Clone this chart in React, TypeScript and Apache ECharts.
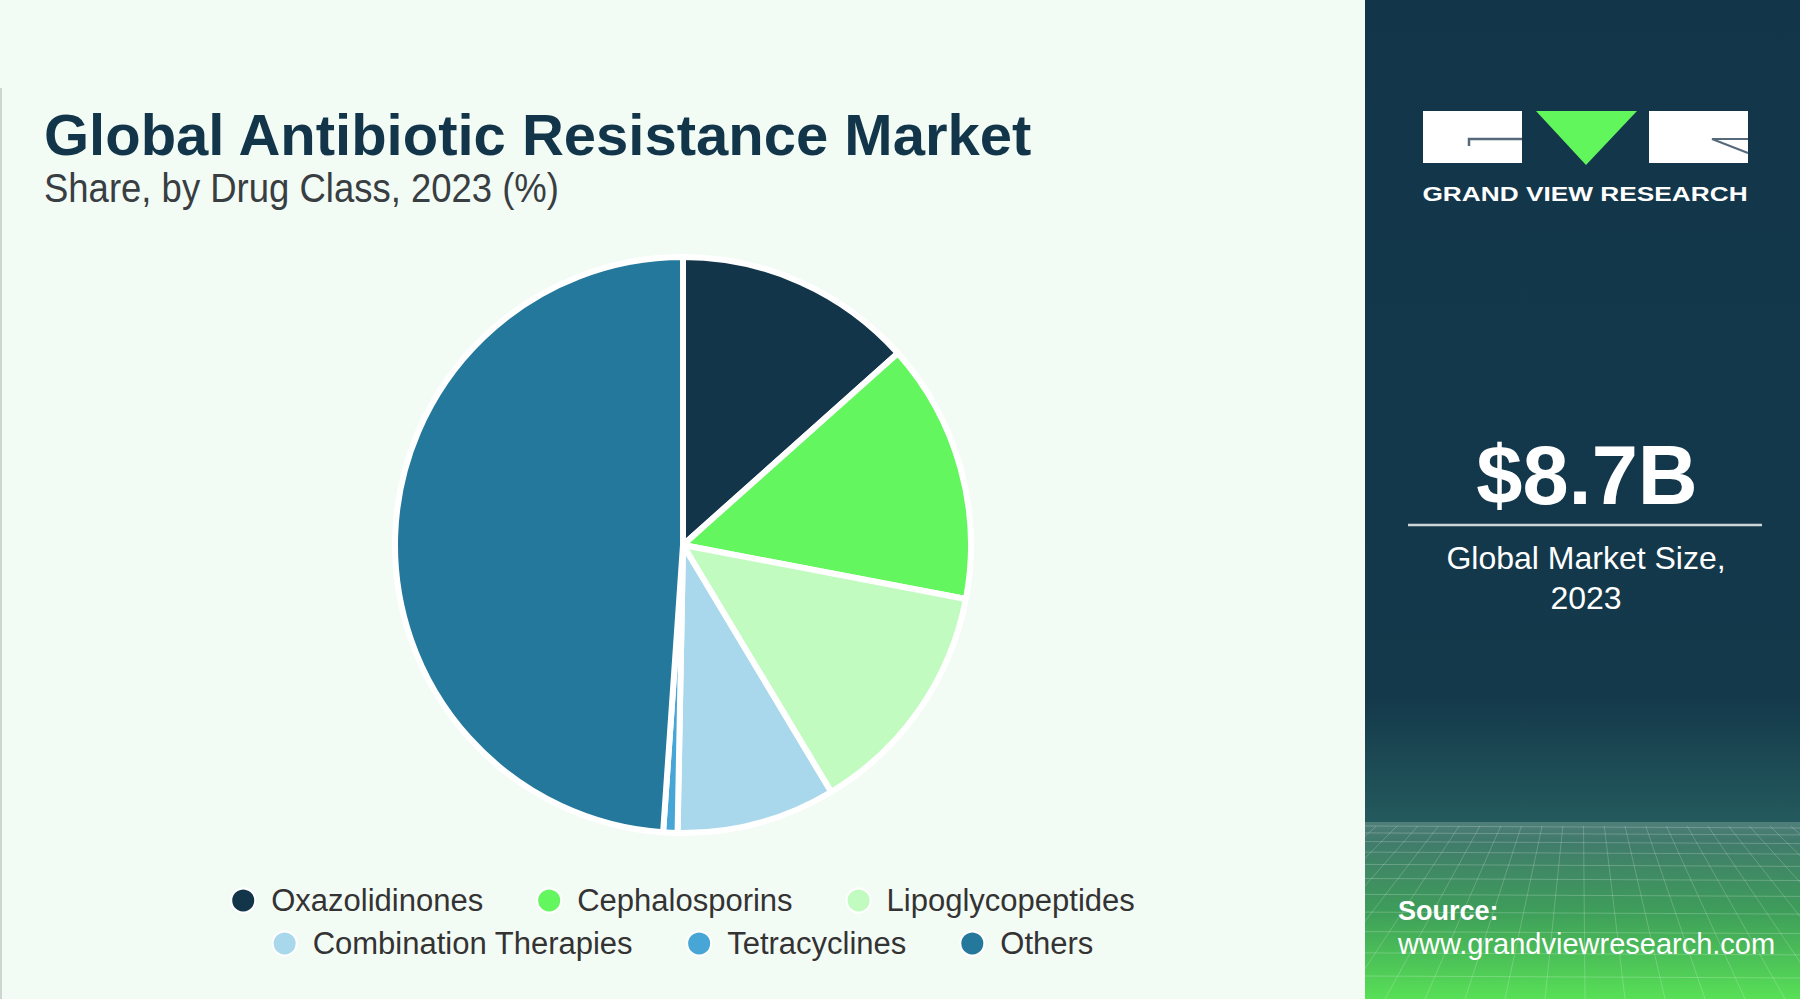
import React, { useEffect, useRef } from 'react';
import * as echarts from 'echarts';

// ---- Data ----
const categories = [
  'Oxazolidinones',
  'Cephalosporins',
  'Lipoglycopeptides',
  'Combination Therapies',
  'Tetracyclines',
  'Others',
];
const shares = [13.4, 14.6, 13.4, 8.9, 0.8, 48.9];
const sliceColors = ['#12354a', '#63f65e', '#c1fbc0', '#a9d8ec', '#47a6d6', '#23789c'];
const legendRow1 = categories.slice(0, 3);
const legendRow2 = categories.slice(3);

const titleText = 'Global Antibiotic Resistance Market';
const subtitleText = 'Share, by Drug Class, 2023 (%)';
const marketSize = '$8.7B';
const marketLabel1 = 'Global Market Size,';
const marketLabel2 = '2023';
const brandText = 'GRAND VIEW RESEARCH';
const sourceLabel = 'Source:';
const sourceUrl = 'www.grandviewresearch.com';

const FONT = '"Liberation Sans", Arial, Helvetica, sans-serif';

function txt(x: number, y: number, text: string, size: number, opts: any = {}) {
  const align = opts.align || 'left';
  return {
    type: 'text',
    x,
    y,
    scaleX: opts.scaleX || 1,
    silent: true,
    style: {
      text,
      fill: opts.color || '#ffffff',
      fontSize: size,
      fontWeight: opts.bold ? 'bold' : 'normal',
      fontFamily: FONT,
      align,
      textAlign: align,
      verticalAlign: 'middle',
      textVerticalAlign: 'middle',
    },
  };
}

export default function App() {
  const leftRef = useRef<HTMLDivElement>(null);
  const rightRef = useRef<HTMLDivElement>(null);

  useEffect(() => {
    document.body.style.margin = '0';
    const left = echarts.init(leftRef.current!, null, { renderer: 'svg' });
    const right = echarts.init(rightRef.current!, null, { renderer: 'svg' });

    const legendCommon = {
      left: 'center',
      orient: 'horizontal',
      icon: 'circle',
      itemWidth: 46,
      itemHeight: 24,
      itemGap: 53,
      selectedMode: false,
      textStyle: { fontSize: 31, color: '#333333', fontFamily: FONT },
    };

    left.setOption({
      animation: false,
      backgroundColor: '#f3fbf5',
      textStyle: { fontFamily: FONT },
      legend: [
        { ...legendCommon, top: 880, data: legendRow1 },
        { ...legendCommon, top: 923, data: legendRow2 },
      ],
      series: [
        {
          type: 'pie',
          center: [683, 545],
          radius: 288,
          startAngle: 90,
          clockwise: true,
          silent: true,
          label: { show: false },
          labelLine: { show: false },
          emphasis: { disabled: true },
          itemStyle: { borderColor: '#ffffff', borderWidth: 6 },
          data: categories.map((name, i) => ({
            name,
            value: shares[i],
            itemStyle: { color: sliceColors[i] },
          })),
        },
      ],
      graphic: [
        { type: 'rect', silent: true, shape: { x: 0, y: 88, width: 2, height: 911 }, style: { fill: '#cfd5d2' } },
        txt(44, 134, titleText, 58, { bold: true, color: '#12354a' }),
        txt(44, 188, subtitleText, 41, { color: '#383e42', scaleX: 0.89 }),
      ],
    });

    // decorative mesh for the lower right panel
    const mesh: any[] = [];
    for (let k = 0; k < 12; k++) {
      const y = 826 + 6 * k + 0.9 * k * k;
      if (y > 999) break;
      mesh.push({
        type: 'line',
        silent: true,
        shape: { x1: 0, y1: y, x2: 435, y2: y + 2 },
        style: { stroke: 'rgba(255,255,255,0.22)', lineWidth: 1 },
      });
    }
    const vx = 217;
    const vy = 640;
    for (let xb = -700; xb <= 1140; xb += 40) {
      const t1 = (826 - vy) / (999 - vy);
      mesh.push({
        type: 'line',
        silent: true,
        shape: { x1: vx + (xb - vx) * t1, y1: 826, x2: xb, y2: 999 },
        style: { stroke: 'rgba(255,255,255,0.2)', lineWidth: 1 },
      });
    }

    right.setOption({
      animation: false,
      backgroundColor: '#12354a',
      graphic: [
        {
          type: 'rect',
          silent: true,
          shape: { x: 0, y: 0, width: 435, height: 822 },
          style: {
            fill: new echarts.graphic.LinearGradient(0, 0, 0, 1, [
              { offset: 0, color: '#12354a' },
              { offset: 0.85, color: '#14394b' },
              { offset: 1, color: '#245a5d' },
            ]),
          },
        },
        {
          type: 'rect',
          silent: true,
          shape: { x: 0, y: 822, width: 435, height: 177 },
          style: {
            fill: new echarts.graphic.LinearGradient(0, 0, 0, 1, [
              { offset: 0, color: '#507f7a' },
              { offset: 0.1, color: '#417a6c' },
              { offset: 0.5, color: '#3e9d5a' },
              { offset: 1, color: '#58e056' },
            ]),
          },
        },
        ...mesh,
        // logo
        { type: 'rect', silent: true, shape: { x: 58, y: 111, width: 99, height: 52 }, style: { fill: '#ffffff' } },
        {
          type: 'polyline',
          silent: true,
          shape: { points: [[104, 146], [104, 139], [157, 139]] },
          style: { stroke: '#55697a', lineWidth: 2.5, fill: null },
        },
        {
          type: 'polygon',
          silent: true,
          shape: { points: [[171, 111], [272, 111], [221, 165]] },
          style: { fill: '#62f65d' },
        },
        { type: 'rect', silent: true, shape: { x: 284, y: 111, width: 99, height: 52 }, style: { fill: '#ffffff' } },
        {
          type: 'polyline',
          silent: true,
          shape: { points: [[383, 139], [347, 139], [383, 153]] },
          style: { stroke: '#55697a', lineWidth: 2, fill: null },
        },
        txt(220, 193, brandText, 21, { bold: true, align: 'center', scaleX: 1.25 }),
        txt(222, 475, marketSize, 83, { bold: true, align: 'center' }),
        {
          type: 'line',
          silent: true,
          shape: { x1: 43, y1: 525, x2: 397, y2: 525 },
          style: { stroke: '#cdd6da', lineWidth: 2.5 },
        },
        txt(221, 558, marketLabel1, 32, { align: 'center' }),
        txt(221, 598, marketLabel2, 32, { align: 'center' }),
        txt(33, 911, sourceLabel, 27, { bold: true }),
        txt(33, 944, sourceUrl, 29),
      ],
    });

    return () => {
      left.dispose();
      right.dispose();
    };
  }, []);

  return (
    <div style={{ position: 'absolute', left: 0, top: 0, width: 1800, height: 999, overflow: 'hidden' }}>
      <div ref={leftRef} style={{ position: 'absolute', left: 0, top: 0, width: 1365, height: 999 }} />
      <div ref={rightRef} style={{ position: 'absolute', left: 1365, top: 0, width: 435, height: 999 }} />
    </div>
  );
}
